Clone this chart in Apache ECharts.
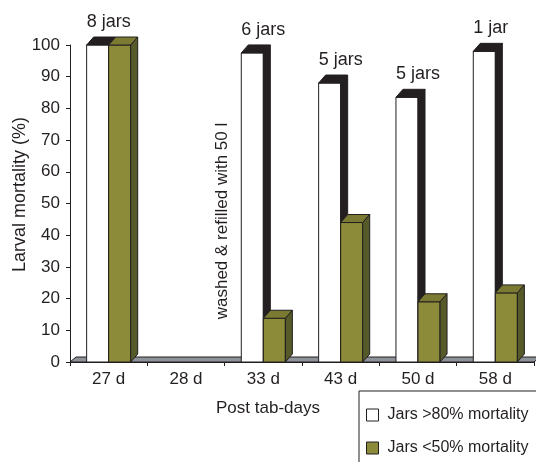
<!DOCTYPE html>
<html>
<head>
<meta charset="utf-8">
<script src="https://cdn.jsdelivr.net/npm/echarts@6/dist/echarts.min.js"></script>
<style>
  html, body { margin: 0; padding: 0; background: #fff; }
  #chart { width: 536px; height: 462px; }
</style>
</head>
<body>
<div id="chart"></div>
<script>
// data
const categories = ['27 d', '28 d', '33 d', '43 d', '50 d', '58 d'];
const highMortality = [100, 0, 97.5, 88, 83.5, 98];   // Jars >80% mortality
const lowMortality = [100, 0, 13.8, 44, 19, 21.8];    // Jars <50% mortality
const jarLabels = ['8 jars', '', '6 jars', '5 jars', '5 jars', '1 jar'];

const FONT = '"Liberation Sans", Arial, sans-serif';
const INK = '#231f20';
const DX = 7, DY = 8;   // fake 3d depth

// draws one 3d-looking column; side = -1 left of the category centre, 0 right of it
function column(api, side, faces, label) {
  const idx = api.value(0);
  const v = api.value(1);
  if (!v) return null;
  const band = api.size([1, 0])[0];
  const w = band * 0.285;
  const c = api.coord([idx, 0]);
  const t = api.coord([idx, v]);
  const xl = c[0] + side * w;
  const xr = xl + w;
  const y0 = c[1], y1 = t[1];
  const line = { stroke: INK, lineWidth: 1 };
  const kids = [
    { type: 'rect', shape: { x: xl, y: y1, width: w, height: y0 - y1 },
      style: Object.assign({ fill: faces[0] }, line) },
    { type: 'polygon', shape: { points: [[xl, y1], [xl + DX, y1 - DY], [xr + DX, y1 - DY], [xr, y1]] },
      style: Object.assign({ fill: faces[1] }, line) },
    { type: 'polygon', shape: { points: [[xr, y0], [xr, y1], [xr + DX, y1 - DY], [xr + DX, y0 - DY]] },
      style: Object.assign({ fill: faces[2] }, line) }
  ];
  if (label) {
    kids.push({ type: 'text', style: { text: label, x: xl, y: y1 - DY - 15,
      align: 'left', verticalAlign: 'middle', fill: INK, font: '18px ' + FONT } });
  }
  return { type: 'group', children: kids };
}

const chart = echarts.init(document.getElementById('chart'));

const option = {
  animation: false,
  backgroundColor: '#fff',
  textStyle: { fontFamily: FONT, color: INK },
  grid: { left: 70, right: 2, top: 45, bottom: 100, outerBoundsMode: 'none' },
  legend: {
    orient: 'vertical',
    left: 366, top: 407,
    padding: 0,
    itemWidth: 12, itemHeight: 12, itemGap: 17,
    textStyle: { fontSize: 16, color: INK, lineHeight: 16, padding: [0, 0, 0, 4] },
    data: [
      { name: 'Jars >80% mortality', icon: 'rect', itemStyle: { color: '#fff', borderColor: INK, borderWidth: 1 } },
      { name: 'Jars <50% mortality', icon: 'rect', itemStyle: { color: '#8b8b3a', borderColor: INK, borderWidth: 1 } }
    ]
  },
  xAxis: {
    type: 'category',
    data: categories,
    boundaryGap: true,
    axisLine: { lineStyle: { color: INK, width: 1 } },
    axisTick: { show: true, length: 4, lineStyle: { color: INK } },
    axisLabel: { color: INK, fontSize: 17, margin: 9 }
  },
  yAxis: {
    type: 'value',
    min: 0, max: 100, interval: 10,
    name: 'Larval mortality (%)',
    nameLocation: 'middle',
    nameGap: 41,
    nameMoveOverlap: false,
    nameTextStyle: { fontSize: 18, color: INK, padding: [0, 0, 0, 18] },
    axisLine: { show: true, lineStyle: { color: INK, width: 1 } },
    axisTick: { show: true, length: 4, lineStyle: { color: INK } },
    axisLabel: { color: INK, fontSize: 17, margin: 10 },
    splitLine: { show: false }
  },
  graphic: [
    { type: 'rect', z: 0, shape: { x: 359, y: 391, width: 200, height: 100 },
      style: { fill: '#fff', stroke: INK, lineWidth: 1 } },
    { type: 'text', z: 10, x: 222, y: 221, rotation: Math.PI / 2,
      style: { text: 'washed & refilled with 50 l', font: '17px ' + FONT, fill: INK,
        align: 'center', verticalAlign: 'middle' } },
    { type: 'text', z: 10, x: 268, y: 408,
      style: { text: 'Post tab-days', font: '17px ' + FONT, fill: INK,
        align: 'center', verticalAlign: 'middle' } }
  ],
  series: [
    {
      // floor slab
      type: 'custom',
      silent: true,
      clip: false,
      z: 1,
      data: [[0, 0]],
      renderItem: function (params, api) {
        const band = api.size([1, 0])[0];
        const a = api.coord([0, 0]);
        const b = api.coord([categories.length - 1, 0]);
        const x0 = a[0] - band / 2, x1 = b[0] + band / 2, y = a[1];
        return { type: 'polygon',
          shape: { points: [[x0, y], [x0 + 6, y - 5], [x1 + 6, y - 5], [x1, y]] },
          style: { fill: '#8d9398', stroke: INK, lineWidth: 1 } };
      }
    },
    {
      name: 'Jars >80% mortality',
      type: 'custom',
      clip: false,
      z: 2,
      itemStyle: { color: '#fff' },
      data: highMortality.map((v, i) => [i, v]),
      renderItem: function (params, api) {
        return column(api, -1, ['#ffffff', INK, INK], jarLabels[params.dataIndex]);
      }
    },
    {
      name: 'Jars <50% mortality',
      type: 'custom',
      clip: false,
      z: 3,
      itemStyle: { color: '#8b8b3a' },
      data: lowMortality.map((v, i) => [i, v]),
      renderItem: function (params, api) {
        return column(api, 0, ['#8b8b3a', '#7a7a32', '#555a28'], null);
      }
    }
  ]
};

chart.setOption(option);
</script>
</body>
</html>
